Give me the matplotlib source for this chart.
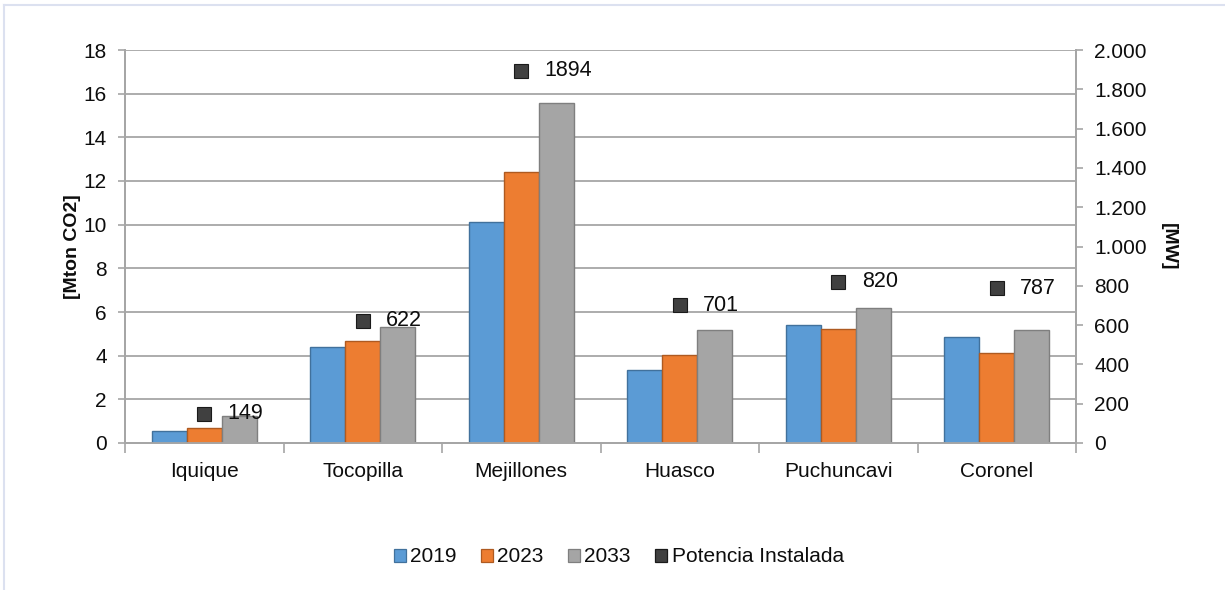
import matplotlib
matplotlib.use("Agg")
import matplotlib.pyplot as plt
import numpy as np
from matplotlib.lines import Line2D
from matplotlib.patches import Patch
from matplotlib.ticker import FuncFormatter, FixedLocator

plt.rcParams["font.family"] = ["Liberation Sans", "DejaVu Sans"]

# emissions per commune [Mton CO2] and installed capacity [MW]
comunas = ["Iquique", "Tocopilla", "Mejillones", "Huasco", "Puchuncavi", "Coronel"]
years = ["2019", "2023", "2033"]
em_2019 = [0.56, 4.41, 10.1, 3.34, 5.41, 4.87]
em_2023 = [0.67, 4.67, 12.4, 4.02, 5.21, 4.12]
em_2033 = [1.25, 5.31, 15.55, 5.18, 6.18, 5.18]
potencia = [149, 622, 1894, 701, 820, 787]

bar_colors = ["#5B9BD5", "#ED7D31", "#A5A5A5"]
edge_colors = ["#41719C", "#AE5A21", "#7F7F7F"]
marker_color = "#404040"
grid_color = "#A6A6A6"
text_color = "#0d0d0d"

W, H = 1225, 590
fig = plt.figure(figsize=(W / 100, H / 100), dpi=100)
ax = fig.add_axes([125 / W, 1 - 443 / H, (1076 - 125) / W, (443 - 50) / H])
ax2 = ax.twinx()

x = np.arange(len(comunas))
bw = 0.221
for i, vals in enumerate([em_2019, em_2023, em_2033]):
    ax.bar(x + (i - 1) * bw, vals, bw, color=bar_colors[i],
           edgecolor=edge_colors[i], linewidth=1.0, zorder=3)

ax2.plot(x, potencia, "s", ms=10, color=marker_color, mec="#1a1a1a",
         mew=0.8, zorder=4)
for xi, p in zip(x, potencia):
    ax2.annotate(str(p), (xi, p), xytext=(17, 0), textcoords="offset points",
                 ha="left", va="center", fontsize=15.5, color=text_color)

# left axis
ax.set_xlim(-0.5, len(comunas) - 0.5)
ax.set_ylim(0, 18)
ax.set_yticks(np.arange(0, 19, 2))
ax.yaxis.grid(True, color=grid_color, linewidth=1.3, zorder=0)
ax.set_axisbelow(True)
ax.set_ylabel("[Mton CO2]", fontsize=14, fontweight="bold", color=text_color,
              labelpad=2)

# right axis
ax2.set_ylim(0, 2000)
ax2.set_yticks(np.arange(0, 2001, 200))
ax2.yaxis.set_major_formatter(
    FuncFormatter(lambda v, _: f"{v:,.0f}".replace(",", ".")))
ax2.set_ylabel("[MW]", fontsize=14, fontweight="bold", color=text_color,
               rotation=270, labelpad=22)

# category labels centred, tick marks between categories
ax.set_xticks(x)
ax.set_xticklabels(comunas)
ax.xaxis.set_minor_locator(FixedLocator(np.arange(-0.5, len(comunas), 1)))
ax.tick_params(axis="x", which="major", length=0, pad=14, labelsize=15,
               labelcolor=text_color)
ax.tick_params(axis="x", which="minor", length=7, width=1.2, color=grid_color,
               direction="out")
ax.tick_params(axis="y", length=5, width=1.2, color=grid_color, pad=8,
               labelsize=15, labelcolor=text_color)
ax2.tick_params(axis="y", length=5, width=1.2, color=grid_color, pad=8,
                labelsize=15, labelcolor=text_color)

for a in (ax, ax2):
    a.spines["top"].set_visible(False)
    for side in ("left", "right", "bottom"):
        a.spines[side].set_color(grid_color)
        a.spines[side].set_linewidth(1.3)

handles = [Patch(facecolor=c, edgecolor=e, linewidth=0.9)
           for c, e in zip(bar_colors, edge_colors)]
handles.append(Patch(facecolor=marker_color, edgecolor="#1a1a1a", linewidth=0.9))
fig.legend(handles, years + ["Potencia Instalada"], loc="center",
           bbox_to_anchor=(0.505, 1 - 557 / H), ncol=4, frameon=False,
           fontsize=15, handlelength=0.6, handleheight=0.6,
           handletextpad=0.2, columnspacing=1.15, labelcolor=text_color)

# chart frame (left and top edges)
frame_color = "#DCE1F0"
fig.add_artist(Line2D([4 / W, 4 / W], [0, 1 - 5 / H], color=frame_color,
                      lw=1.5, transform=fig.transFigure))
fig.add_artist(Line2D([4 / W, 1], [1 - 5 / H, 1 - 5 / H], color=frame_color,
                      lw=1.5, transform=fig.transFigure))

fig.savefig("out.png", dpi=100)
